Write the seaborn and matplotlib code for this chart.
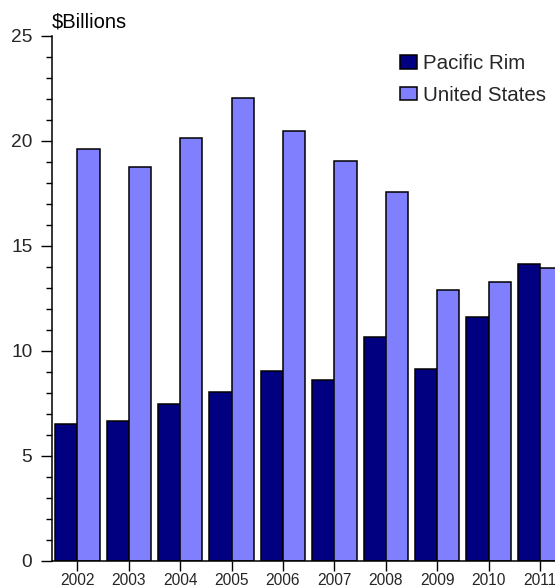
import matplotlib
matplotlib.use("Agg")
import matplotlib.pyplot as plt
import seaborn as sns
import pandas as pd
from matplotlib.ticker import MultipleLocator
from matplotlib.patches import Patch

years = ["2002", "2003", "2004", "2005", "2006", "2007", "2008", "2009", "2010", "2011"]
pacific_rim = [6.52, 6.64, 7.46, 8.03, 9.03, 8.59, 10.67, 9.11, 11.6, 14.13]
united_states = [19.62, 18.76, 20.11, 22.05, 20.48, 19.03, 17.54, 12.9, 13.26, 13.95]
series_names = ["Pacific Rim", "United States"]
series_colors = ["#000080", "#8080FF"]

df = pd.DataFrame({
    "year": years * 2,
    "value": pacific_rim + united_states,
    "region": [series_names[0]] * len(years) + [series_names[1]] * len(years),
})

sns.set_theme(style="white")
plt.rcParams["font.family"] = ["Liberation Sans", "DejaVu Sans"]

W, H = 555, 588
fig = plt.figure(figsize=(W / 100, H / 100), dpi=100)
ax_left, ax_bottom, ax_top = 51.7, 560.7, 35.7
ax_width = 514
ax = fig.add_axes([ax_left / W, (H - ax_bottom) / H, ax_width / W, (ax_bottom - ax_top) / H])

sns.barplot(data=df, x="year", y="value", hue="region", order=years,
            hue_order=series_names, palette=series_colors, width=0.86,
            edgecolor="black", linewidth=1.1, saturation=1, ax=ax, legend=False)

ax.set_xlim(-0.5, len(years) - 0.5)
ax.set_ylim(0, 25)
ax.yaxis.set_major_locator(MultipleLocator(5))
ax.yaxis.set_minor_locator(MultipleLocator(1))
ax.set_xlabel("")
ax.set_ylabel("")

for side in ["top", "right"]:
    ax.spines[side].set_visible(False)
for side in ["left", "bottom"]:
    ax.spines[side].set_color("black")
    ax.spines[side].set_linewidth(1.1)

ax.tick_params(axis="y", which="major", direction="out", length=8, width=1,
               color="black", labelsize=13.8, pad=6, left=True)
ax.tick_params(axis="y", which="minor", direction="out", length=4, width=1,
               color="black", left=True)
ax.tick_params(axis="x", which="major", direction="out", length=7.5, width=1,
               color="black", labelsize=11.2, pad=1.5, bottom=True)

fig.text(ax_left / W, 1 - 27.5 / H, "$Billions", fontsize=14.5, ha="left",
         va="baseline", color="black")

handles = [Patch(facecolor=c, edgecolor="black", linewidth=1.1) for c in series_colors]
fig.legend(handles, series_names, loc="upper left",
           bbox_to_anchor=(400 / W, 1 - 54 / H), frameon=False, fontsize=14.8,
           handlelength=0.85, handleheight=0.65, handletextpad=0.25,
           labelspacing=0.62, borderpad=0, borderaxespad=0)

fig.savefig("out.png", dpi=100)
